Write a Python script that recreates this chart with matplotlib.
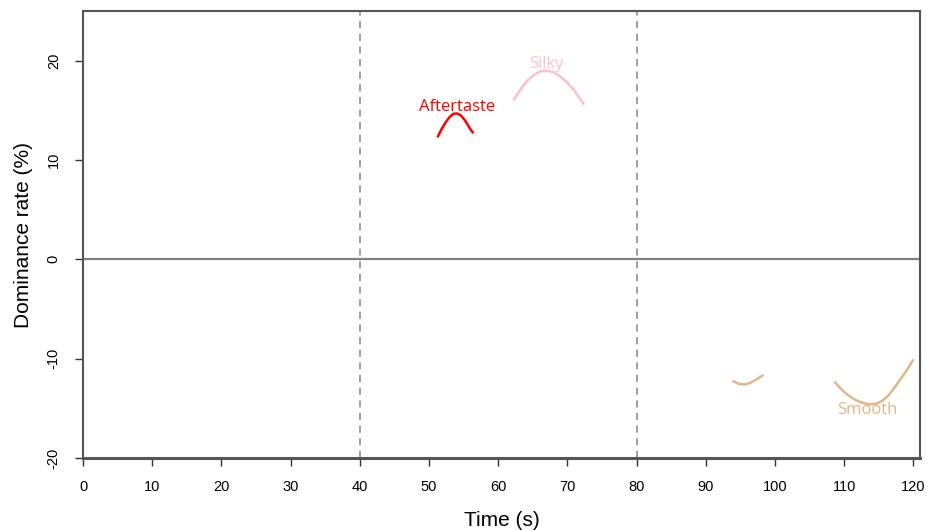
import matplotlib
matplotlib.use("Agg")
import matplotlib.pyplot as plt

# кривые доминирования, значения
aftertaste_x = [51.3, 51.8, 52.4, 53.0, 53.5, 54.0, 54.6, 55.2, 55.8, 56.3]
aftertaste_y = [12.4, 13.1, 13.8, 14.35, 14.65, 14.7, 14.5, 14.0, 13.3, 12.8]

silky_x = [62.3, 63.2, 64.2, 65.2, 66.2, 67.0, 68.0, 69.0, 70.0, 71.0, 72.3]
silky_y = [16.1, 17.1, 18.0, 18.6, 18.95, 19.0, 18.85, 18.4, 17.8, 17.0, 15.7]

smooth1_x = [94.0, 94.8, 95.6, 96.4, 97.3, 98.2]
smooth1_y = [-12.3, -12.55, -12.6, -12.45, -12.1, -11.7]

smooth2_x = [108.7, 109.6, 110.6, 111.6, 112.6, 113.6, 114.6, 115.5, 116.4, 117.3, 118.2, 119.1, 119.9]
smooth2_y = [-12.4, -13.1, -13.7, -14.15, -14.45, -14.6, -14.55, -14.25, -13.7, -12.9, -12.0, -11.1, -10.2]

labels = ["Aftertaste", "Silky", "Smooth"]
label_x = [54.0, 67.0, 113.3]
label_y = [15.3, 19.7, -15.2]
colors = ["#FF0000", "#FFC0CB", "#DEB887"]

x_ticks = list(range(0, 121, 10))
y_ticks = [-20, -10, 0, 10, 20]
vlines = [40, 80]

plt.rcParams['font.family'] = ['Liberation Sans', 'DejaVu Sans']

fig = plt.figure(figsize=(9.35, 5.3), dpi=100)
ax = fig.add_axes([0.0888, 0.136, 0.8955, 0.843])

ax.axhline(0, color="#808080", lw=1.6, zorder=1)
for v in vlines:
    ax.axvline(v, color="#999999", lw=1.3, ls=(0, (4, 3)), zorder=1)

ax.plot(aftertaste_x, aftertaste_y, color=colors[0], lw=1.8)
ax.plot(silky_x, silky_y, color=colors[1], lw=1.8)
ax.plot(smooth1_x, smooth1_y, color=colors[2], lw=1.8)
ax.plot(smooth2_x, smooth2_y, color=colors[2], lw=1.8)

for t, x, y, c in zip(labels, label_x, label_y, colors):
    ax.text(x, y, t, color=c, fontsize=12, ha="center", va="center",
            family=['Open Sans', 'DejaVu Sans'])

ax.set_xlim(0, 121)
ax.set_ylim(-20, 25)
ax.set_xticks(x_ticks)
ax.set_yticks(y_ticks)
ax.set_yticklabels([str(v) for v in y_ticks], rotation=90, va="center")
ax.tick_params(axis="both", direction="out", length=6, width=1, labelsize=10.5,
               color="#333333", pad=10)
for s in ax.spines.values():
    s.set_color("#555555")
    s.set_linewidth(1.5)
ax.spines["bottom"].set_linewidth(2.2)

ax.set_xlabel("Time (s)", fontsize=15, labelpad=12)
ax.set_ylabel("Dominance rate (%)", fontsize=15, labelpad=10)

fig.savefig("out.png", dpi=100)
